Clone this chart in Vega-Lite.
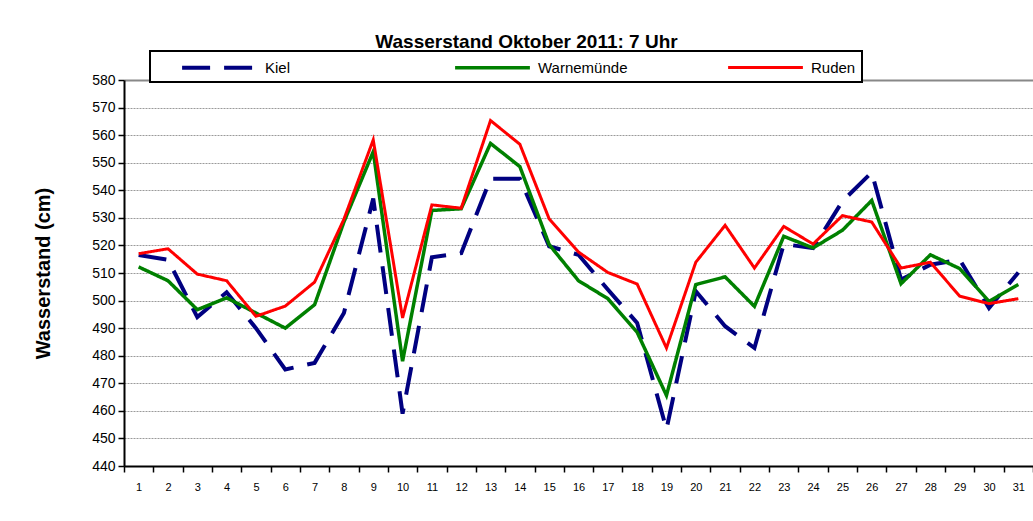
{
  "$schema": "https://vega.github.io/schema/vega-lite/v6.json",
  "width": 909,
  "height": 386,
  "autosize": {"type": "none"},
  "padding": {"left": 124, "top": 80, "right": 0, "bottom": 55},
  "background": "white",
  "title": {
    "text": "Wasserstand Oktober 2011: 7 Uhr",
    "font": "Liberation Sans",
    "fontSize": 19,
    "fontWeight": "bold",
    "color": "black",
    "anchor": "middle",
    "dx": -52,
    "offset": -2
  },
  "config": {
    "view": {"stroke": null},
    "legend": {
      "orient": "none",
      "legendX": 26,
      "legendY": -29,
      "direction": "horizontal",
      "columns": 3,
      "gridAlign": "all",
      "symbolType": "M-4.4,0L4.4,0",
      "symbolSize": 289,
      "symbolOffset": 53,
      "labelFont": "Liberation Sans",
      "labelFontSize": 15,
      "labelColor": "black",
      "labelOffset": 35,
      "columnPadding": 74,
      "padding": 6,
      "fillColor": "white",
      "strokeColor": "black",
      "strokeWidth": 2,
      "cornerRadius": 0
    }
  },
  "data": {
    "values": [
      {"Tag": 1, "Station": "Kiel", "Wasserstand": 516.5},
      {"Tag": 2, "Station": "Kiel", "Wasserstand": 514.8},
      {"Tag": 3, "Station": "Kiel", "Wasserstand": 494},
      {"Tag": 4, "Station": "Kiel", "Wasserstand": 503},
      {"Tag": 5, "Station": "Kiel", "Wasserstand": 490},
      {"Tag": 6, "Station": "Kiel", "Wasserstand": 475},
      {"Tag": 7, "Station": "Kiel", "Wasserstand": 477.4},
      {"Tag": 8, "Station": "Kiel", "Wasserstand": 495.5},
      {"Tag": 9, "Station": "Kiel", "Wasserstand": 537},
      {"Tag": 10, "Station": "Kiel", "Wasserstand": 459},
      {"Tag": 11, "Station": "Kiel", "Wasserstand": 515.7},
      {"Tag": 12, "Station": "Kiel", "Wasserstand": 517.2},
      {"Tag": 13, "Station": "Kiel", "Wasserstand": 544.2},
      {"Tag": 14, "Station": "Kiel", "Wasserstand": 544.2},
      {"Tag": 15, "Station": "Kiel", "Wasserstand": 519.7},
      {"Tag": 16, "Station": "Kiel", "Wasserstand": 516.6},
      {"Tag": 17, "Station": "Kiel", "Wasserstand": 504},
      {"Tag": 18, "Station": "Kiel", "Wasserstand": 491.9},
      {"Tag": 19, "Station": "Kiel", "Wasserstand": 453.3},
      {"Tag": 20, "Station": "Kiel", "Wasserstand": 503.4},
      {"Tag": 21, "Station": "Kiel", "Wasserstand": 490.7},
      {"Tag": 22, "Station": "Kiel", "Wasserstand": 482.8},
      {"Tag": 23, "Station": "Kiel", "Wasserstand": 520.5},
      {"Tag": 24, "Station": "Kiel", "Wasserstand": 519},
      {"Tag": 25, "Station": "Kiel", "Wasserstand": 536},
      {"Tag": 26, "Station": "Kiel", "Wasserstand": 546.5},
      {"Tag": 27, "Station": "Kiel", "Wasserstand": 507.6},
      {"Tag": 28, "Station": "Kiel", "Wasserstand": 513},
      {"Tag": 29, "Station": "Kiel", "Wasserstand": 514.8},
      {"Tag": 30, "Station": "Kiel", "Wasserstand": 497.3},
      {"Tag": 31, "Station": "Kiel", "Wasserstand": 510.2},
      {"Tag": 1, "Station": "Warnemünde", "Wasserstand": 512.2},
      {"Tag": 2, "Station": "Warnemünde", "Wasserstand": 507.2},
      {"Tag": 3, "Station": "Warnemünde", "Wasserstand": 496.7},
      {"Tag": 4, "Station": "Warnemünde", "Wasserstand": 501},
      {"Tag": 5, "Station": "Warnemünde", "Wasserstand": 495.5},
      {"Tag": 6, "Station": "Warnemünde", "Wasserstand": 490},
      {"Tag": 7, "Station": "Warnemünde", "Wasserstand": 498.5},
      {"Tag": 8, "Station": "Warnemünde", "Wasserstand": 528.5},
      {"Tag": 9, "Station": "Warnemünde", "Wasserstand": 554},
      {"Tag": 10, "Station": "Warnemünde", "Wasserstand": 478},
      {"Tag": 11, "Station": "Warnemünde", "Wasserstand": 532.7},
      {"Tag": 12, "Station": "Warnemünde", "Wasserstand": 533.3},
      {"Tag": 13, "Station": "Warnemünde", "Wasserstand": 557},
      {"Tag": 14, "Station": "Warnemünde", "Wasserstand": 548.6},
      {"Tag": 15, "Station": "Warnemünde", "Wasserstand": 520.3},
      {"Tag": 16, "Station": "Warnemünde", "Wasserstand": 507.2},
      {"Tag": 17, "Station": "Warnemünde", "Wasserstand": 500.7},
      {"Tag": 18, "Station": "Warnemünde", "Wasserstand": 488.5},
      {"Tag": 19, "Station": "Warnemünde", "Wasserstand": 465.6},
      {"Tag": 20, "Station": "Warnemünde", "Wasserstand": 505.8},
      {"Tag": 21, "Station": "Warnemünde", "Wasserstand": 508.6},
      {"Tag": 22, "Station": "Warnemünde", "Wasserstand": 497.9},
      {"Tag": 23, "Station": "Warnemünde", "Wasserstand": 523.3},
      {"Tag": 24, "Station": "Warnemünde", "Wasserstand": 519.1},
      {"Tag": 25, "Station": "Warnemünde", "Wasserstand": 525.5},
      {"Tag": 26, "Station": "Warnemünde", "Wasserstand": 536.3},
      {"Tag": 27, "Station": "Warnemünde", "Wasserstand": 506.1},
      {"Tag": 28, "Station": "Warnemünde", "Wasserstand": 516.6},
      {"Tag": 29, "Station": "Warnemünde", "Wasserstand": 511.6},
      {"Tag": 30, "Station": "Warnemünde", "Wasserstand": 499.7},
      {"Tag": 31, "Station": "Warnemünde", "Wasserstand": 505.8},
      {"Tag": 1, "Station": "Ruden", "Wasserstand": 517},
      {"Tag": 2, "Station": "Ruden", "Wasserstand": 518.8},
      {"Tag": 3, "Station": "Ruden", "Wasserstand": 509.6},
      {"Tag": 4, "Station": "Ruden", "Wasserstand": 507.2},
      {"Tag": 5, "Station": "Ruden", "Wasserstand": 494.3},
      {"Tag": 6, "Station": "Ruden", "Wasserstand": 498},
      {"Tag": 7, "Station": "Ruden", "Wasserstand": 506.7},
      {"Tag": 8, "Station": "Ruden", "Wasserstand": 529.5},
      {"Tag": 9, "Station": "Ruden", "Wasserstand": 558.3},
      {"Tag": 10, "Station": "Ruden", "Wasserstand": 493.7},
      {"Tag": 11, "Station": "Ruden", "Wasserstand": 534.7},
      {"Tag": 12, "Station": "Ruden", "Wasserstand": 533.5},
      {"Tag": 13, "Station": "Ruden", "Wasserstand": 565.3},
      {"Tag": 14, "Station": "Ruden", "Wasserstand": 556.7},
      {"Tag": 15, "Station": "Ruden", "Wasserstand": 529.6},
      {"Tag": 16, "Station": "Ruden", "Wasserstand": 517.6},
      {"Tag": 17, "Station": "Ruden", "Wasserstand": 510.2},
      {"Tag": 18, "Station": "Ruden", "Wasserstand": 506},
      {"Tag": 19, "Station": "Ruden", "Wasserstand": 482.8},
      {"Tag": 20, "Station": "Ruden", "Wasserstand": 513.9},
      {"Tag": 21, "Station": "Ruden", "Wasserstand": 527.3},
      {"Tag": 22, "Station": "Ruden", "Wasserstand": 511.8},
      {"Tag": 23, "Station": "Ruden", "Wasserstand": 526.9},
      {"Tag": 24, "Station": "Ruden", "Wasserstand": 520.5},
      {"Tag": 25, "Station": "Ruden", "Wasserstand": 530.8},
      {"Tag": 26, "Station": "Ruden", "Wasserstand": 528.5},
      {"Tag": 27, "Station": "Ruden", "Wasserstand": 511.8},
      {"Tag": 28, "Station": "Ruden", "Wasserstand": 513.9},
      {"Tag": 29, "Station": "Ruden", "Wasserstand": 501.6},
      {"Tag": 30, "Station": "Ruden", "Wasserstand": 498.9},
      {"Tag": 31, "Station": "Ruden", "Wasserstand": 500.7}
    ]
  },
  "mark": {"type": "line", "strokeJoin": "miter"},
  "encoding": {
    "x": {
      "field": "Tag",
      "type": "ordinal",
      "scale": {"type": "band", "paddingInner": 0, "paddingOuter": 0},
      "axis": {
        "title": null,
        "labelAngle": 0,
        "tickBand": "extent",
        "grid": false,
        "domainColor": "black",
        "domainWidth": 2,
        "tickColor": "black",
        "tickWidth": 1.5,
        "tickSize": 6,
        "labelFont": "Liberation Sans",
        "labelFontSize": 11,
        "labelColor": "black",
        "labelPadding": 9
      }
    },
    "y": {
      "field": "Wasserstand",
      "type": "quantitative",
      "scale": {"domain": [440, 580], "nice": false, "zero": false},
      "axis": {
        "title": "Wasserstand (cm)",
        "titleFont": "Liberation Sans",
        "titleFontSize": 20,
        "titleFontWeight": "bold",
        "titleColor": "black",
        "titlePadding": 38,
        "values": [440, 450, 460, 470, 480, 490, 500, 510, 520, 530, 540, 550, 560, 570, 580],
        "grid": true,
        "gridColor": {"condition": {"test": "datum.value == 580", "value": "#888888"}, "value": "#9a9a9a"},
        "gridDash": {"condition": {"test": "datum.value == 580", "value": []}, "value": [2, 1]},
        "gridWidth": {"condition": {"test": "datum.value == 580", "value": 2}, "value": 1},
        "domainColor": "black",
        "domainWidth": 2,
        "tickColor": "black",
        "tickWidth": 1.5,
        "tickSize": 6,
        "labelFont": "Liberation Sans",
        "labelFontSize": 14,
        "labelColor": "black",
        "labelPadding": 3
      }
    },
    "color": {
      "field": "Station",
      "type": "nominal",
      "scale": {"domain": ["Kiel", "Warnemünde", "Ruden"], "range": ["#000080", "#008000", "#FF0000"]},
      "legend": {"title": null}
    },
    "strokeDash": {
      "field": "Station",
      "type": "nominal",
      "scale": {"domain": ["Kiel", "Warnemünde", "Ruden"], "range": [[28, 14], [1, 0], [1, 0]]},
      "legend": {"title": null}
    },
    "strokeWidth": {
      "field": "Station",
      "type": "nominal",
      "scale": {"domain": ["Kiel", "Warnemünde", "Ruden"], "range": [4, 3, 3]},
      "legend": {"title": null}
    }
  }
}
